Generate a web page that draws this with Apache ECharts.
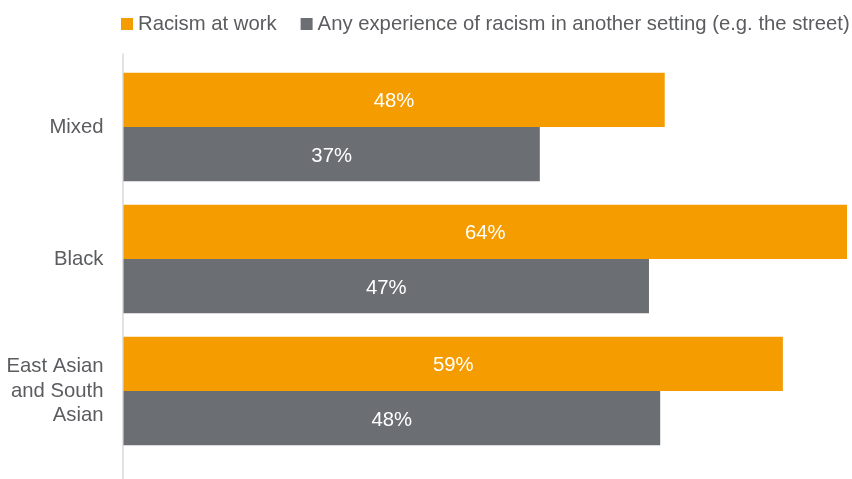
<!DOCTYPE html>
<html>
<head>
<meta charset="utf-8">
<script src="https://cdn.jsdelivr.net/npm/echarts@6/dist/echarts.min.js"></script>
<style>html,body{margin:0;padding:0;background:#fff}#c{width:852px;height:479px}</style>
</head>
<body>
<div id="c"></div>
<script>
var categories = ['Mixed', 'Black', 'East Asian\nand South\nAsian'];
var seriesNames = ['Racism at work', 'Any experience of racism in another setting (e.g. the street)'];
var racismAtWork = [48.1, 64.3, 58.6];
var otherSetting = [37.0, 46.7, 47.7];

var FONT = '"Liberation Sans", Arial, sans-serif';
var TEXT = '#5b5c5f';
var chart = echarts.init(document.getElementById('c'));
chart.setOption({
  animation: false,
  textStyle: { fontFamily: FONT },
  legend: {
    left: 121, top: 14, padding: 0, width: 731,
    itemWidth: 12, itemHeight: 12, itemGap: 24,
    icon: 'rect',
    textStyle: { fontSize: 20.3, color: TEXT, fontFamily: FONT },
    data: seriesNames
  },
  grid: [
    { left: 123.5, right: 5, top: 61, height: 396, containLabel: false },
    { left: 123, right: 5, top: 54, bottom: 0 }
  ],
  xAxis: [
    { type: 'value', gridIndex: 0, min: 0, max: 'dataMax', show: false },
    { type: 'value', gridIndex: 1, show: false }
  ],
  yAxis: [
    {
      type: 'category', gridIndex: 0, inverse: true, data: categories,
      axisLine: { show: false }, axisTick: { show: false },
      axisLabel: { fontSize: 20.3, color: TEXT, fontFamily: FONT, margin: 20, lineHeight: 24.5, align: 'right' }
    },
    {
      type: 'value', gridIndex: 1, position: 'left',
      axisLine: { show: true, onZero: false, lineStyle: { color: '#d9d9d9', width: 1.5 } },
      axisTick: { show: false }, axisLabel: { show: false }, splitLine: { show: false }
    }
  ],
  series: [
    {
      name: seriesNames[0], type: 'bar', xAxisIndex: 0, yAxisIndex: 0,
      data: racismAtWork, barWidth: 54.3, barGap: '0%',
      itemStyle: { color: '#f49c00' },
      label: { show: true, position: 'inside', color: '#fff', fontSize: 20.3, fontFamily: FONT, offset: [0, 2],
        formatter: function (p) { return Math.round(p.value) + '%'; } }
    },
    {
      name: seriesNames[1], type: 'bar', xAxisIndex: 0, yAxisIndex: 0,
      data: otherSetting, barWidth: 54.3, barGap: '0%',
      itemStyle: { color: '#6b6e72' },
      label: { show: true, position: 'inside', color: '#fff', fontSize: 20.3, fontFamily: FONT, offset: [0, 2],
        formatter: function (p) { return Math.round(p.value) + '%'; } }
    }
  ]
});
</script>
</body>
</html>
